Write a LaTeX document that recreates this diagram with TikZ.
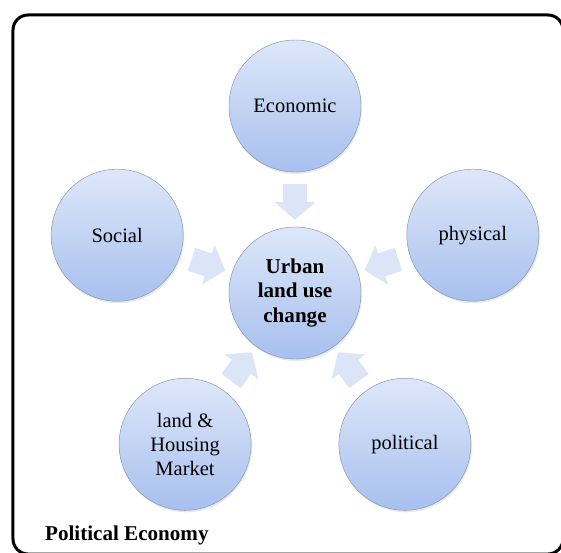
\documentclass[tikz,border=0pt]{standalone}
\usepackage{fontspec}
\setmainfont{Liberation Serif}
\usetikzlibrary{arrows.meta,shadows}
\definecolor{circtop}{HTML}{DEE7F9}
\definecolor{circbot}{HTML}{A7C0EE}
\definecolor{circedge}{HTML}{8593B0}
\definecolor{pushfill}{HTML}{DCE5F7}

\begin{document}
\begin{tikzpicture}[font=\fontsize{17.5}{20.5}\selectfont,
  factor/.style={circle,draw=circedge,top color=circtop,bottom color=circbot,minimum size=3.96cm,inner sep=0pt,align=center,
    drop shadow={opacity=0.18,shadow xshift=0.3mm,shadow yshift=-0.6mm}},
  core/.style={factor,font=\fontsize{18}{21}\selectfont\bfseries},
  push/.style={-{Triangle[length=0.54cm,width=1.23cm]},line width=0.72cm,draw=pushfill,shorten >=0.21cm,shorten <=0.36cm}]
  \useasboundingbox (-8.85,-7.77) rectangle (7.98,8.79);
  \clip (-8.85,-7.77) rectangle (7.98,8.79);
  % outer frame
  \draw[line width=0.09cm,rounded corners=0.45cm] (-8.46,-7.83) rectangle (8.04,8.34);
  \node[core] (luc) at (0,0) {Urban\\land use\\change};
  \node[factor] (eco) at (90:5.61) {Economic};
  \node[factor] (soc) at (162:5.61) {Social};
  \node[factor] (mkt) at (234:5.61) {land \&\\Housing\\Market};
  \node[factor] (pol) at (306:5.61) {political};
  \node[factor] (phy) at (18:5.61) {physical};
  \foreach \f in {eco,soc,mkt,pol,phy}
    \draw[push] (\f) -- (luc);
  \node[anchor=base west,font=\fontsize{18}{21}\selectfont\bfseries] (pe) at (-7.62,-7.41) {Political Economy};
\end{tikzpicture}
\end{document}
